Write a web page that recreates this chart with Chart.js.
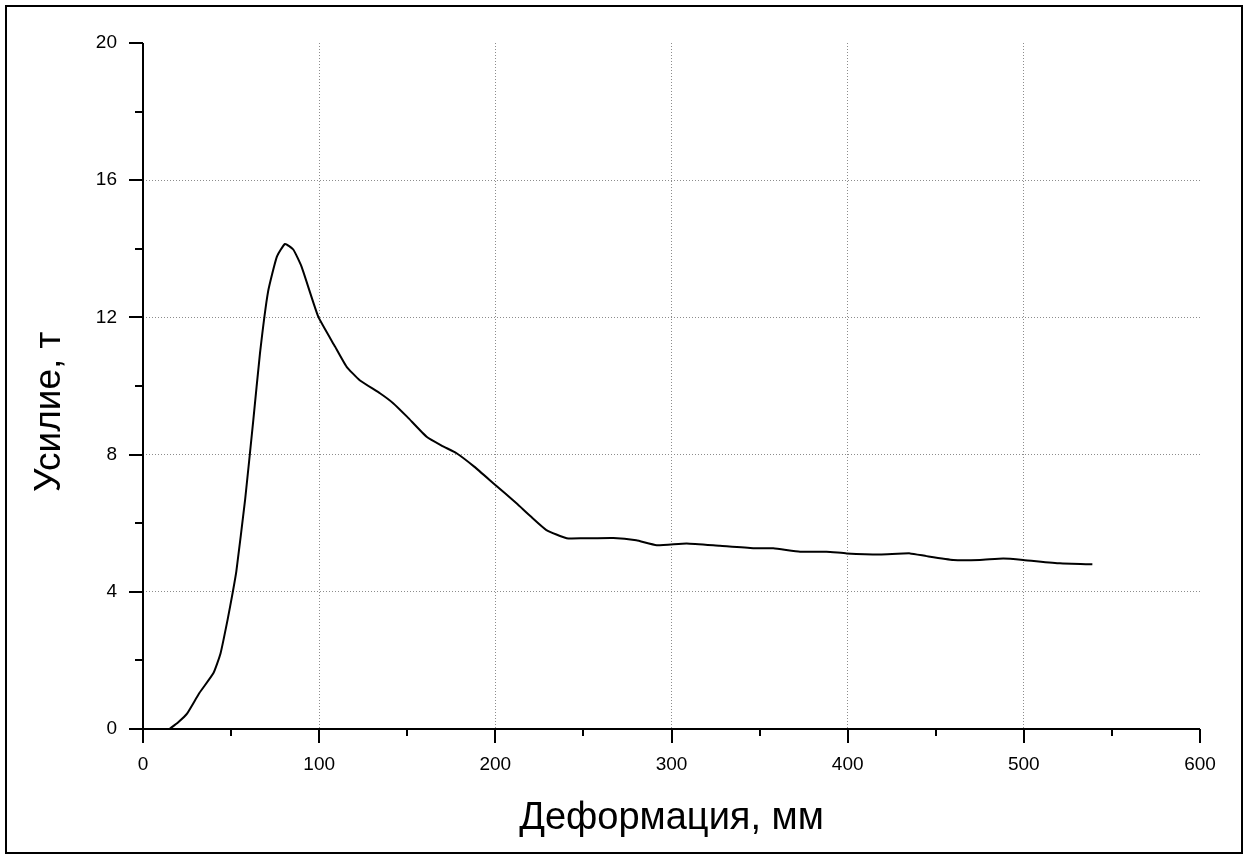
<!DOCTYPE html>
<html>
<head>
<meta charset="utf-8">
<script src="https://cdn.jsdelivr.net/npm/chart.js@4/dist/chart.umd.min.js"></script>
<style>
  html, body { margin: 0; padding: 0; background: #fff; }
  #wrap { width: 1247px; height: 855px; }
</style>
</head>
<body>
<div id="wrap"><canvas id="myChart" width="1247" height="855"></canvas></div>
<script>
// deformation, mm
const deformation = [15, 20, 25, 32, 40, 44, 48, 51, 53, 58, 62.6, 66.4, 71, 76, 80.6, 85.3, 90, 99.5,
  109, 115.6, 123, 134.5, 142, 150, 161, 170, 178, 188, 199, 212, 220, 229, 240.5, 250, 267,
  280, 291.6, 308.6, 327.5, 346.4, 357.8, 373, 388, 399.4, 418.3, 435.4, 444.8, 460, 475,
  488.3, 499.7, 520.5, 538.9];
// force, t
const force = [0, 0.2, 0.45, 1.05, 1.63, 2.2, 3.18, 4.0, 4.6, 6.7, 9.0, 10.95, 12.75, 13.77, 14.14, 13.98, 13.48, 12.02,
  11.15, 10.56, 10.17, 9.79, 9.5, 9.1, 8.52, 8.25, 8.04, 7.65, 7.16, 6.58, 6.2, 5.8, 5.56, 5.56, 5.57,
  5.5, 5.36, 5.41, 5.34, 5.27, 5.27, 5.17, 5.17, 5.12, 5.09, 5.12, 5.04, 4.93, 4.93,
  4.97, 4.93, 4.83, 4.80];

const xTicks = [0, 100, 200, 300, 400, 500, 600];
const xMinor = [50, 150, 250, 350, 450, 550];
const yTicks = [0, 4, 8, 12, 16, 20];
const yMinor = [2, 6, 10, 14, 18];

const points = deformation.map((x, i) => ({ x: x, y: force[i] }));

// axis lines, outward ticks (major and minor) plus the frame around the figure
const axisTicks = {
  id: "axisTicks",
  afterDraw(chart) {
    const ctx = chart.ctx;
    const xs = chart.scales.x;
    const ys = chart.scales.y;
    const area = chart.chartArea;
    ctx.save();
    ctx.setLineDash([]);
    ctx.strokeStyle = "#000";
    ctx.lineWidth = 2;
    ctx.beginPath();
    ctx.moveTo(area.left, area.top);
    ctx.lineTo(area.left, area.bottom);
    ctx.lineTo(area.right, area.bottom);
    xTicks.forEach((v) => {
      const px = Math.round(xs.getPixelForValue(v));
      ctx.moveTo(px, area.bottom);
      ctx.lineTo(px, area.bottom + 14);
    });
    xMinor.forEach((v) => {
      const px = Math.round(xs.getPixelForValue(v));
      ctx.moveTo(px, area.bottom);
      ctx.lineTo(px, area.bottom + 7);
    });
    yTicks.forEach((v) => {
      const py = Math.round(ys.getPixelForValue(v));
      ctx.moveTo(area.left, py);
      ctx.lineTo(area.left - 14, py);
    });
    yMinor.forEach((v) => {
      const py = Math.round(ys.getPixelForValue(v));
      ctx.moveTo(area.left, py);
      ctx.lineTo(area.left - 8, py);
    });
    ctx.stroke();
    ctx.strokeRect(6, 6, 1236, 847);
    ctx.restore();
  }
};

const gridColor = (ctx, first, last) =>
  ctx.tick && (ctx.tick.value === first || ctx.tick.value === last) ? "rgba(0,0,0,0)" : "#8c8c8c";

const config = {
  type: "line",
  data: {
    datasets: [{
      label: "Усилие",
      data: points,
      borderColor: "#000",
      borderWidth: 2,
      pointRadius: 0,
      tension: 0.15,
      fill: false
    }]
  },
  options: {
    responsive: false,
    animation: false,
    layout: { padding: { left: 0, top: 43, right: 47, bottom: 0 } },
    plugins: { legend: { display: false }, tooltip: { enabled: false } },
    scales: {
      x: {
        type: "linear",
        min: 0,
        max: 600,
        afterBuildTicks: (s) => { s.ticks = xTicks.map((v) => ({ value: v })); },
        afterFit: (s) => { s.height = 126; },
        border: { display: false, dash: [1, 2] },
        grid: {
          color: (c) => gridColor(c, 0, 600),
          lineWidth: 1,
          drawTicks: false
        },
        ticks: {
          color: "#000",
          padding: 24,
          maxRotation: 0,
          font: { family: "'Liberation Sans', Arial, sans-serif", size: 19 }
        },
        title: {
          display: true,
          text: "Деформация, мм",
          color: "#000",
          padding: { top: 0, bottom: 14 },
          font: { family: "'Liberation Sans', Arial, sans-serif", size: 38 }
        }
      },
      y: {
        type: "linear",
        min: 0,
        max: 20,
        afterBuildTicks: (s) => { s.ticks = yTicks.map((v) => ({ value: v })); },
        afterFit: (s) => { s.width = 143; },
        border: { display: false, dash: [1, 2] },
        grid: {
          color: (c) => gridColor(c, 0, 20),
          lineWidth: 1,
          drawTicks: false
        },
        ticks: {
          color: "#000",
          padding: 26,
          font: { family: "'Liberation Sans', Arial, sans-serif", size: 19 }
        },
        title: {
          display: true,
          text: "Усилие, т\u00a0\u00a0\u00a0\u00a0\u00a0",
          color: "#000",
          padding: { top: 28, bottom: 0 },
          font: { family: "'Liberation Sans', Arial, sans-serif", size: 37 }
        }
      }
    }
  },
  plugins: [axisTicks]
};

const myChart = document.getElementById("myChart");
new Chart(myChart, config);
</script>
</body>
</html>
